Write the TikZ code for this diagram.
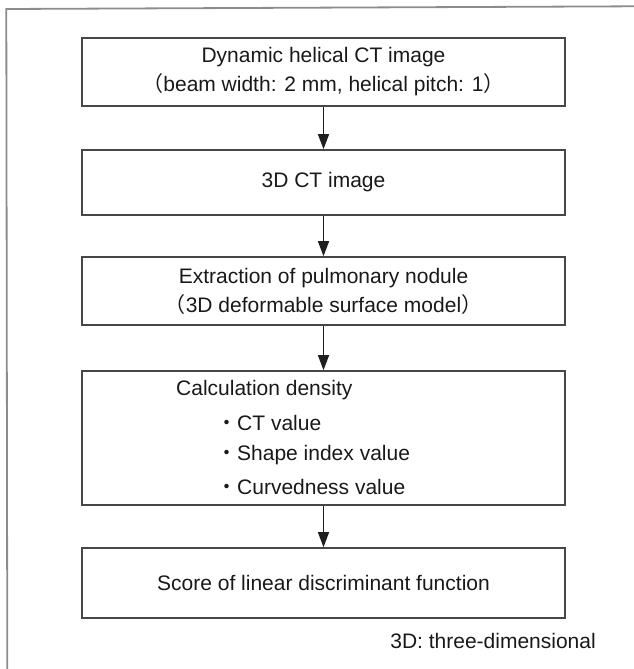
\documentclass[tikz,border=0pt]{standalone}
\usepackage{fontspec}
\setmainfont{Liberation Sans}
\newfontfamily\cjk{Noto Sans CJK JP}
\usetikzlibrary{arrows.meta}

\tikzset{
  stepbox/.style={draw=black!72, line width=1.6pt, rectangle, inner sep=0pt,
                  minimum width=483pt, align=center, text=black!90,
                  font=\fontsize{21}{29}\selectfont},
  plain/.style={inner sep=0pt, text=black!90, font=\fontsize{21}{29}\selectfont},
  flow/.style={draw=black!88, line width=1.3pt,
               -{Triangle[length=15pt, width=11pt]}},
  frameline/.style={draw=black!45, line width=1.8pt},
}

\begin{document}
\begin{tikzpicture}[x=1pt, y=-1pt]
  \useasboundingbox (0,0) rectangle (634,669);

  % outer frame (only the left and top edges fall inside the page)
  \draw[frameline] (7.3,669) -- (6.3,9) -- (634,6.3);

  % process boxes
  \node[stepbox, minimum height=68pt] (b1) at (323.5,72)
    {Dynamic helical CT image\\{\cjk （}beam width: 2 mm, helical pitch: 1{\cjk ）}};
  \node[stepbox, minimum height=65pt] (b2) at (323.5,182.5) {3D CT image};
  \node[stepbox, minimum height=68pt] (b3) at (323.5,291)
    {Extraction of pulmonary nodule\\{\cjk （}3D deformable surface model{\cjk ）}};
  \node[stepbox, minimum height=134pt] (b4) at (323.5,438) {};
  \node[stepbox, minimum height=70pt] (b5) at (323.5,583)
    {Score of linear discriminant function};

  % contents of the calculation box
  \node[plain, anchor=west] (calc) at (176,390) {Calculation density};
  \node[plain, anchor=west] (ct) at (216,423) {{\cjk ・}CT value};
  \node[plain, anchor=west] (si) at (216,455) {{\cjk ・}Shape index value};
  \node[plain, anchor=west] (cv) at (216,487) {{\cjk ・}Curvedness value};

  % flow arrows
  \draw[flow] (b1.south) -- (b2.north);
  \draw[flow] (b2.south) -- (b3.north);
  \draw[flow] (b3.south) -- (b4.north);
  \draw[flow] (b4.south) -- (b5.north);

  % abbreviation note
  \node[plain, anchor=east] (note) at (596,641) {3D: three-dimensional};
\end{tikzpicture}
\end{document}
